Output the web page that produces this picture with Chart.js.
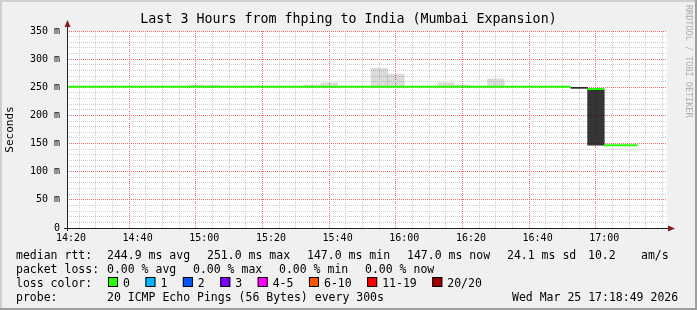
<!DOCTYPE html>
<html>
<head>
<meta charset="utf-8">
<script src="https://cdn.jsdelivr.net/npm/chart.js@4"></script>
<style>
  html, body { margin: 0; padding: 0; background: #f0f0f0; }
  canvas { display: block; }
</style>
</head>
<body>
<canvas id="pingChart" width="697" height="310"></canvas>
<script>
// chart data
const titleText = 'Last 3 Hours from fhping to India (Mumbai Expansion)';
const rangeStart = '14:18:49';
const rangeEnd = '17:18:49';

// 5 minute bins (start time) and the median rtt in ms
const binTimes = ['14:15', '14:20', '14:25', '14:30', '14:35', '14:40', '14:45', '14:50', '14:55',
  '15:00', '15:05', '15:10', '15:15', '15:20', '15:25', '15:30', '15:35', '15:40', '15:45', '15:50',
  '15:55', '16:00', '16:05', '16:10', '16:15', '16:20', '16:25', '16:30', '16:35', '16:40', '16:45',
  '16:50', '16:55', '17:00', '17:05'];
const medianRtt = [251, 251, 251, 251, 251, 251, 251, 251, 251,
  251, 251, 251, 251, 251, 251, 251, 251, 251, 251, 251,
  251, 251, 251, 251, 251, 251, 251, 251, 251, 251, 251,
  null, 247, 147, 147];

// light smoke (spread of the pings)
const smokeTimes = ['14:55', '15:00', '15:30', '15:35', '15:50', '15:55', '16:10', '16:15', '16:25'];
const smokeLow = [250, 250, 250, 250, 250, 250, 250, 250, 250];
const smokeHigh = [254, 253, 254, 258, 284, 273.5, 258, 254, 265];

// dense smoke
const heavyTimes = ['16:50', '16:55'];
const heavyLow = [248, 147];
const heavyHigh = [250, 246];

const xTickLabels = ['14:20', '14:40', '15:00', '15:20', '15:40', '16:00', '16:20', '16:40', '17:00'];
const yTickValues = [0, 50, 100, 150, 200, 250, 300, 350];
const yTickLabels = ['0', '50 m', '100 m', '150 m', '200 m', '250 m', '300 m', '350 m'];

const rttStats = ['244.9 ms avg', '251.0 ms max', '147.0 ms min', '147.0 ms now', '24.1 ms sd', '10.2', 'am/s'];
const lossStats = ['0.00 % avg', '0.00 % max', '0.00 % min', '0.00 % now'];
const lossLabels = ['0', '1', '2', '3', '4-5', '6-10', '11-19', '20/20'];
const probeText = '20 ICMP Echo Pings (56 Bytes) every 300s';
const stampText = 'Wed Mar 25 17:18:49 2026';

// styling
const mono = '"DejaVu Sans Mono", monospace';
const GREEN = '#22ff00';
const GRID = '#cdcdcd';
const MGRID = '#ec6a6a';
const lossSwatch = ['#26ff00', '#00b8ff', '#0059ff', '#7e00ff', '#ff00ff', '#ff5500', '#ff0000', '#a10000'];

const toMin = s => {
  const p = s.split(':').map(Number);
  return p[0] * 60 + p[1] + (p[2] || 0) / 60;
};
const xMin = toMin(rangeStart);
const xMax = toMin(rangeEnd);
const xMajor = xTickLabels.map(toMin);

const medianPoints = [];
binTimes.forEach((t, i) => {
  const s = toMin(t);
  medianPoints.push({x: s, y: medianRtt[i]}, {x: s + 5, y: medianRtt[i]});
});
const smokeBars = smokeTimes.map((t, i) => ({x: toMin(t) + 2.5, y: [smokeLow[i], smokeHigh[i]]}));
const heavyBars = heavyTimes.map((t, i) => ({x: toMin(t) + 2.5, y: [heavyLow[i], heavyHigh[i]]}));

// grid line colour per tick value (majors red, minors grey)
const gridColor = (majors, scaleId) => ctx => {
  const sc = ctx.chart.scales[scaleId];
  const v = ctx.tick ? ctx.tick.value : (sc && sc.ticks[ctx.index] ? sc.ticks[ctx.index].value : NaN);
  return majors.includes(v) ? MGRID : GRID;
};

const rrdFrame = {
  id: 'rrdFrame',
  beforeDraw(chart) {
    const {ctx, chartArea: a, width, height} = chart;
    ctx.save();
    ctx.fillStyle = '#f0f0f0';
    ctx.fillRect(0, 0, width, height);
    ctx.fillStyle = '#ffffff';
    ctx.fillRect(a.left, a.top, a.right - a.left, a.bottom - a.top);
    ctx.restore();
  },
  afterDraw(chart) {
    const {ctx, chartArea: a, width, height} = chart;
    ctx.save();

    // axes + arrows
    ctx.strokeStyle = '#212121';
    ctx.lineWidth = 1;
    ctx.beginPath();
    ctx.moveTo(a.left - 3, a.bottom + 0.5);
    ctx.lineTo(a.right + 2, a.bottom + 0.5);
    ctx.moveTo(a.left + 0.5, a.bottom + 3);
    ctx.lineTo(a.left + 0.5, a.top - 5);
    ctx.stroke();
    ctx.fillStyle = '#8b1c1c';
    ctx.beginPath();
    ctx.moveTo(a.right + 1, a.bottom - 2.5);
    ctx.lineTo(a.right + 8, a.bottom + 0.5);
    ctx.lineTo(a.right + 1, a.bottom + 3.5);
    ctx.fill();
    ctx.beginPath();
    ctx.moveTo(a.left - 2.5, a.top - 4);
    ctx.lineTo(a.left + 0.5, a.top - 11);
    ctx.lineTo(a.left + 3.5, a.top - 4);
    ctx.fill();

    // title
    ctx.fillStyle = '#000';
    ctx.font = '13.3px ' + mono;
    ctx.textAlign = 'center';
    ctx.textBaseline = 'alphabetic';
    ctx.fillText(titleText, width / 2, 23);

    // legend
    ctx.font = '11.5px ' + mono;
    ctx.textAlign = 'left';
    const rows = [258.5, 272.5, 286.5, 300.5];
    ctx.fillText('median rtt:', 16, rows[0]);
    [107, 207, 307, 407, 507, 588, 641].forEach((x, i) => ctx.fillText(rttStats[i], x, rows[0]));
    ctx.fillText('packet loss:', 16, rows[1]);
    [107, 193, 279, 365].forEach((x, i) => ctx.fillText(lossStats[i], x, rows[1]));
    ctx.fillText('loss color:', 16, rows[2]);
    let lx = 108;
    lossLabels.forEach((lbl, i) => {
      ctx.fillStyle = lossSwatch[i];
      ctx.fillRect(lx, 277, 10, 10);
      ctx.strokeStyle = '#000';
      ctx.strokeRect(lx + 0.5, 277.5, 9, 9);
      ctx.fillStyle = '#000';
      ctx.fillText(lbl, lx + 15, rows[2]);
      lx += 15 + ctx.measureText(lbl).width + 15.5;
    });
    ctx.fillText('probe:', 16, rows[3]);
    ctx.fillText(probeText, 107, rows[3]);
    ctx.fillText(stampText, 512, rows[3]);

    // watermark
    ctx.save();
    ctx.translate(688, 5);
    ctx.rotate(Math.PI / 2);
    ctx.fillStyle = '#ababab';
    ctx.font = '8.5px ' + mono;
    ctx.textBaseline = 'middle';
    ctx.fillText('RRDTOOL / TOBI OETIKER', 0, 0);
    ctx.restore();

    // 3d frame
    ctx.fillStyle = '#cfcfcf';
    ctx.fillRect(0, 0, width, 2);
    ctx.fillRect(0, 0, 2, height);
    ctx.fillStyle = '#9e9e9e';
    ctx.fillRect(0, height - 2, width, 2);
    ctx.fillRect(width - 2, 0, 2, height);
    ctx.restore();
  }
};

new Chart(document.getElementById('pingChart'), {
  type: 'bar',
  data: {
    datasets: [{
      type: 'line',
      label: 'median rtt',
      data: medianPoints,
      borderColor: GREEN,
      borderWidth: 2,
      pointRadius: 0,
      tension: 0,
      spanGaps: false,
      clip: {left: 0, top: 2, right: 0, bottom: 2},
      segment: {
        borderColor: c => (c.p0.parsed.x === c.p1.parsed.x ? 'rgba(0,0,0,0)' : undefined)
      }
    }, {
      type: 'bar',
      label: 'dense smoke',
      data: heavyBars,
      backgroundColor: 'rgba(20,20,20,0.86)',
      grouped: false,
      barPercentage: 1,
      categoryPercentage: 1
    }, {
      type: 'bar',
      label: 'smoke',
      data: smokeBars,
      backgroundColor: 'rgba(0,0,0,0.14)',
      grouped: false,
      barPercentage: 1,
      categoryPercentage: 1
    }]
  },
  options: {
    responsive: false,
    animation: false,
    devicePixelRatio: 1,
    layout: {padding: {left: 0, top: 31, right: 30, bottom: 0}},
    plugins: {
      legend: {display: false},
      title: {display: false},
      tooltip: {enabled: false}
    },
    scales: {
      x: {
        type: 'linear',
        min: xMin,
        max: xMax,
        offset: false,
        afterBuildTicks: s => {
          const t = [];
          for (let v = Math.ceil(xMin / 5) * 5; v <= xMax; v += 5) t.push({value: v});
          s.ticks = t;
        },
        afterFit: s => { s.height = 82; },
        grid: {
          color: gridColor(xMajor, 'x'),
          drawTicks: false,
          lineWidth: 1
        },
        border: {display: false, dash: [1, 1]},
        ticks: {
          autoSkip: false,
          maxRotation: 0,
          padding: 4,
          color: '#000',
          font: {family: mono, size: 10},
          callback: v => {
            const i = xMajor.indexOf(v);
            return i >= 0 ? xTickLabels[i] : '';
          }
        }
      },
      y: {
        type: 'linear',
        min: 0,
        max: 350,
        afterBuildTicks: s => {
          const t = [];
          for (let v = 0; v <= 350; v += 10) t.push({value: v});
          s.ticks = t;
        },
        afterFit: s => { s.width = 67; },
        title: {
          display: true,
          text: 'Seconds',
          color: '#000',
          font: {family: mono, size: 11},
          padding: {top: 4, bottom: 0}
        },
        grid: {
          color: gridColor(yTickValues, 'y'),
          drawTicks: false,
          lineWidth: 1
        },
        border: {display: false, dash: [1, 1]},
        ticks: {
          autoSkip: false,
          padding: 7,
          color: '#000',
          font: {family: mono, size: 10},
          callback: v => {
            const i = yTickValues.indexOf(v);
            return i >= 0 ? yTickLabels[i] : '';
          }
        }
      }
    }
  },
  plugins: [rrdFrame]
});
</script>
</body>
</html>
